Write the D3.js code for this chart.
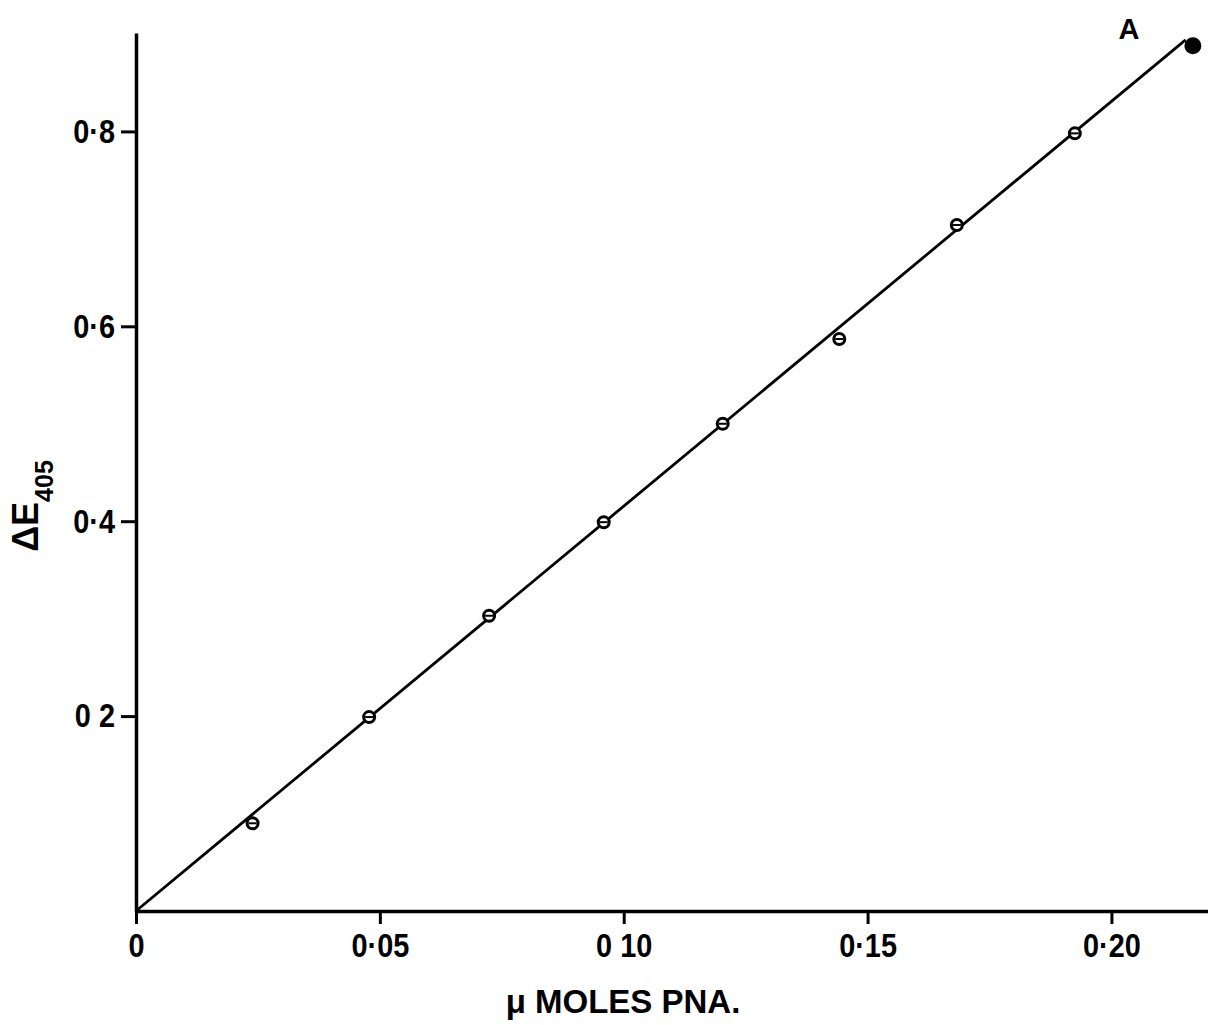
<!DOCTYPE html>
<html>
<head>
<meta charset="utf-8">
<script src="https://cdn.jsdelivr.net/npm/d3@7"></script>
<style>
  body { margin: 0; background: #fff; }
  svg { display: block; }
  text { font-family: "Liberation Sans", Arial, sans-serif; font-weight: bold; }
</style>
</head>
<body>
<div id="graph"></div>
<script>
// readings
var pnaMoles = [0.0239, 0.0478, 0.0724, 0.0959, 0.1203, 0.1442, 0.1683, 0.1925, 0.2167];
var deltaE = [0.090, 0.199, 0.303, 0.399, 0.500, 0.587, 0.704, 0.798, 0.888];
var filledPoint = [false, false, false, false, false, false, false, false, true];
var fitLine = [[0, 0], [0.2152, 0.894]];

var xTicks = [0, 0.05, 0.10, 0.15, 0.20];
var xTickLabels = ["0", "0·05", "0 10", "0·15", "0·20"];
var yTicks = [0.2, 0.4, 0.6, 0.8];
var yTickLabels = ["0 2", "0·4", "0·6", "0·8"];

var w = 1208;
var h = 1025;
var squeeze = 0.85; // tick labels are a tall narrow face

var vis = d3.select("#graph")
  .append("svg")
  .attr("width", w)
  .attr("height", h);

var x = d3.scaleLinear().domain([0, 0.2198]).range([136, 1208]);
var y = d3.scaleLinear().domain([0, 0.901]).range([911, 33]);

// x axis
var xAxis = d3.axisBottom(x)
  .tickValues(xTicks)
  .tickFormat(function(d, i) { return xTickLabels[i]; })
  .tickSize(13)
  .tickSizeOuter(0)
  .tickPadding(9);

var gx = vis.append("g")
  .attr("transform", "translate(0," + y(0) + ")")
  .call(xAxis);
gx.attr("font-family", null);
gx.select(".domain").attr("stroke-width", 3.5);
gx.selectAll(".tick line").attr("stroke-width", 3);
gx.selectAll(".tick text")
  .attr("font-size", 34)
  .attr("fill", "#000")
  .attr("transform", "scale(" + squeeze + ",1)");

// y axis
var yAxis = d3.axisLeft(y)
  .tickValues(yTicks)
  .tickFormat(function(d, i) { return yTickLabels[i]; })
  .tickSize(15)
  .tickSizeOuter(0)
  .tickPadding(6);

var gy = vis.append("g")
  .attr("transform", "translate(" + x(0) + ",0)")
  .call(yAxis);
gy.attr("font-family", null);
gy.select(".domain").attr("stroke-width", 3.5);
gy.selectAll(".tick line").attr("stroke-width", 3);
gy.selectAll(".tick text")
  .attr("font-size", 34)
  .attr("fill", "#000")
  .attr("x", -21 / squeeze)
  .attr("transform", "scale(" + squeeze + ",1)");

// fitted line
var line = d3.line()
  .x(function(d) { return x(d[0]); })
  .y(function(d) { return y(d[1]); });

vis.append("path")
  .datum(fitLine)
  .attr("d", line)
  .attr("fill", "none")
  .attr("stroke", "#000")
  .attr("stroke-width", 2.8);

// points
var pts = pnaMoles.map(function(v, i) {
  return {x: v, y: deltaE[i], filled: filledPoint[i]};
});

var g = vis.selectAll(".pt")
  .data(pts)
  .enter()
  .append("g")
  .attr("class", "pt")
  .attr("transform", function(d) { return "translate(" + x(d.x) + "," + y(d.y) + ")"; });

g.append("circle")
  .attr("r", function(d) { return d.filled ? 7 : 5.5; })
  .attr("fill", function(d) { return d.filled ? "#000" : "#fff"; })
  .attr("stroke", "#000")
  .attr("stroke-width", 3);

g.filter(function(d) { return !d.filled; })
  .append("line")
  .attr("x1", -4).attr("x2", 4)
  .attr("y1", 0).attr("y2", 0)
  .attr("stroke", "#000")
  .attr("stroke-width", 2);

// labels
vis.append("text")
  .attr("x", 1129)
  .attr("y", 39)
  .attr("text-anchor", "middle")
  .attr("font-size", 29)
  .text("A");

vis.append("text")
  .attr("x", 623)
  .attr("y", 1013)
  .attr("text-anchor", "middle")
  .attr("font-size", 33)
  .text("μ MOLES PNA.");

var yt = vis.append("text")
  .attr("transform", "translate(38,506) rotate(-90)")
  .attr("text-anchor", "middle")
  .attr("font-size", 36);
yt.append("tspan").text("ΔE");
yt.append("tspan").attr("dy", 15).attr("font-size", 25).text("405");
</script>
</body>
</html>
